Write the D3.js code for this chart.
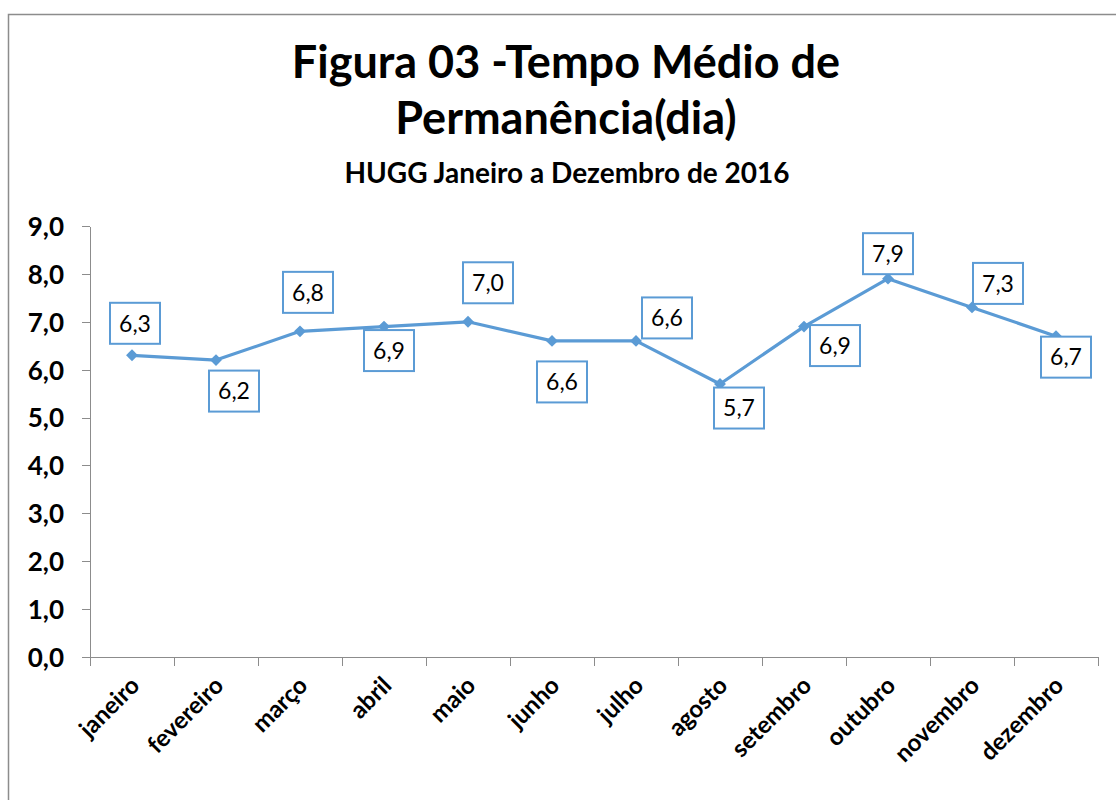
<!DOCTYPE html>
<meta charset="utf-8">
<head>
  <title>Tempo Médio de Permanência</title>
</head>
<body>
<style>
  html, body { margin: 0; padding: 0; background: #fff; }
  * { font-family: Lato, "Open Sans", sans-serif; }
  .frame { fill: none; stroke: #8c8c8c; stroke-width: 1.5px; }
  .axis path, .axis line { stroke: #8c8c8c; stroke-width: 1px; shape-rendering: crispEdges; }
  .axis text { font-weight: bold; fill: #000; }
  .title { font-weight: bold; fill: #000; text-anchor: middle; }
  .series { fill: none; stroke: #5b9bd5; stroke-width: 3.2px; stroke-linejoin: round; }
  .marker { fill: #5b9bd5; }
  .label-box { fill: #fff; stroke: #5b9bd5; stroke-width: 2px; }
  .label-text { font-size: 23px; fill: #000; text-anchor: middle; }
</style>
<div id="chart"></div>
<script src="https://cdn.jsdelivr.net/npm/d3@7"></script>
<script>

var months = ['janeiro', 'fevereiro', 'março', 'abril', 'maio', 'junho',
              'julho', 'agosto', 'setembro', 'outubro', 'novembro', 'dezembro'];
var values = [6.3, 6.2, 6.8, 6.9, 7.0, 6.6, 6.6, 5.7, 6.9, 7.9, 7.3, 6.7];
var yTicks = [0, 1, 2, 3, 4, 5, 6, 7, 8, 9];

// hand-placed label offsets (px from point), as in the original
var labelNudge = [[3, -32], [18, 31], [8, -39], [5, 24], [20, -39], [10, 41],
                  [31, -23], [19, 24], [31, 19], [0, -25], [26, -24], [10, 21]];

var width = 1116, height = 800;
var margin = {top: 226, right: 18, bottom: 143, left: 90};

var ptBR = d3.formatLocale({decimal: ',', thousands: '.', grouping: [3], currency: ['R$', '']});
var fmt = ptBR.format('.1f');

var svg = d3.select('#chart').append('svg')
    .attr('width', width)
    .attr('height', height);

svg.append('rect')
    .attr('class', 'frame')
    .attr('x', 8.5)
    .attr('y', 14.5)
    .attr('width', width + 20)
    .attr('height', height + 20);

// titles
svg.append('text').attr('class', 'title')
    .attr('x', 566).attr('y', 78)
    .style('font-size', '45px')
    .text('Figura 03 -Tempo Médio de');
svg.append('text').attr('class', 'title')
    .attr('x', 566).attr('y', 134)
    .style('font-size', '45px')
    .text('Permanência(dia)');
svg.append('text').attr('class', 'title')
    .attr('x', 567).attr('y', 183)
    .style('font-size', '28px')
    .text('HUGG Janeiro a Dezembro de 2016');

var x = d3.scaleBand()
    .domain(months)
    .range([margin.left, width - margin.right]);

var y = d3.scaleLinear()
    .domain([0, 9])
    .range([height - margin.bottom, margin.top]);

// y axis
var yAxis = svg.append('g')
    .attr('class', 'axis')
    .attr('transform', 'translate(' + margin.left + ',0)')
    .call(d3.axisLeft(y)
      .tickValues(yTicks)
      .tickSize(8)
      .tickPadding(18)
      .tickSizeOuter(0)
      .tickFormat(fmt));
yAxis.selectAll('text').style('font-size', '26px').attr('dy', '0.36em');

// x axis: line + boundary ticks + rotated labels
var xAxis = svg.append('g')
    .attr('class', 'axis')
    .attr('transform', 'translate(0,' + y(0) + ')');

xAxis.append('path')
    .attr('d', 'M' + x.range()[0] + ',0H' + x.range()[1]);

var bounds = months.map(function(m) { return x(m); }).concat([x.range()[1]]);
xAxis.selectAll('line')
    .data(bounds)
  .enter().append('line')
    .attr('x1', function(d) { return Math.round(d) + 0.5; })
    .attr('x2', function(d) { return Math.round(d) + 0.5; })
    .attr('y1', 0)
    .attr('y2', 9);

xAxis.selectAll('text')
    .data(months)
  .enter().append('text')
    .attr('text-anchor', 'end')
    .style('font-size', '24px')
    .attr('transform', function(d) {
      return 'translate(' + (x(d) + x.bandwidth() / 2 + 9) + ',30) rotate(-45)';
    })
    .text(function(d) { return d; });

// series
var cx = function(d, i) { return x(months[i]) + x.bandwidth() / 2; };

svg.append('path')
    .datum(values)
    .attr('class', 'series')
    .attr('d', d3.line()
      .x(cx)
      .y(function(d) { return y(d); }));

svg.selectAll('.marker')
    .data(values)
  .enter().append('path')
    .attr('class', 'marker')
    .attr('d', d3.symbol().type(d3.symbolDiamond2).size(90))
    .attr('transform', function(d, i) {
      return 'translate(' + cx(d, i) + ',' + y(d) + ')';
    });

// data labels
var labels = svg.selectAll('.label')
    .data(values)
  .enter().append('g')
    .attr('class', 'label')
    .attr('transform', function(d, i) {
      return 'translate(' + (cx(d, i) + labelNudge[i][0]) + ',' + (y(d) + labelNudge[i][1]) + ')';
    });

labels.append('rect')
    .attr('class', 'label-box')
    .attr('x', -25)
    .attr('y', -20.5)
    .attr('width', 50)
    .attr('height', 41);

labels.append('text')
    .attr('class', 'label-text')
    .attr('dy', '0.36em')
    .text(function(d) { return fmt(d); });

</script>
</body>
